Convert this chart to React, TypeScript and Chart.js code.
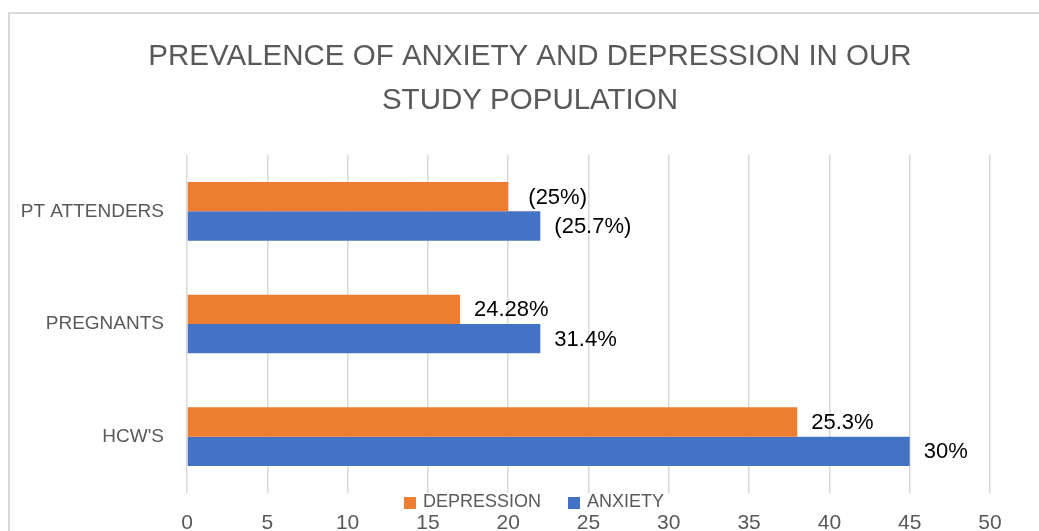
import React, { useEffect, useRef } from 'react';
import { Chart, registerables } from 'chart.js';

Chart.register(...registerables);

const TITLE_LINES = ['PREVALENCE OF ANXIETY AND DEPRESSION IN OUR', 'STUDY POPULATION'];
const CATEGORIES = ['PT ATTENDERS', 'PREGNANTS', "HCW'S"];
const SERIES_NAMES = ['DEPRESSION', 'ANXIETY'];
const DEPRESSION = [20, 17, 38];
const ANXIETY = [22, 22, 45];
const DEPRESSION_LABELS = [' (25%)', '24.28%', '25.3%'];
const ANXIETY_LABELS = ['(25.7%)', '31.4%', '30%'];
const X_MIN = 0;
const X_MAX = 50;
const X_STEP = 5;

const FONT = "'Liberation Sans', Arial, sans-serif";
const GRAY = '#595959';
const ORANGE = '#ED7D31';
const BLUE = '#4472C4';
const GRID = '#d9d9d9';

const VALUE_LABELS = [DEPRESSION_LABELS, ANXIETY_LABELS];

const valueLabelPlugin = {
  id: 'valueLabels',
  afterDatasetsDraw(chart: any) {
    const ctx = chart.ctx;
    ctx.save();
    ctx.font = `22px ${FONT}`;
    ctx.fillStyle = '#000000';
    ctx.textAlign = 'left';
    ctx.textBaseline = 'middle';
    chart.data.datasets.forEach((_ds: any, i: number) => {
      const meta = chart.getDatasetMeta(i);
      meta.data.forEach((el: any, j: number) => {
        ctx.fillText(VALUE_LABELS[i][j], el.x + 14, el.y + 1);
      });
    });
    ctx.restore();
  },
};

const midLegendPlugin = {
  id: 'midLegend',
  afterDraw(chart: any) {
    const ctx = chart.ctx;
    const area = chart.chartArea;
    ctx.save();
    ctx.font = `18px ${FONT}`;
    const box = 12;
    const gapText = 7;
    const gapItem = 27;
    const items = chart.data.datasets.map((ds: any) => ({
      label: ds.label,
      color: ds.backgroundColor,
      w: ctx.measureText(ds.label).width,
    }));
    const total =
      items.reduce((s: number, it: any) => s + box + gapText + it.w, 0) + gapItem * (items.length - 1);
    let x = chart.width / 2 + 4 - total / 2;
    const cy = area.bottom + 9;
    ctx.textBaseline = 'middle';
    ctx.textAlign = 'left';
    items.forEach((it: any) => {
      ctx.fillStyle = it.color;
      ctx.fillRect(x, cy - box / 2 + 1, box, box);
      x += box + gapText;
      ctx.fillStyle = GRAY;
      ctx.fillText(it.label, x, cy);
      x += it.w + gapItem;
    });
    ctx.restore();
  },
};

export default function App() {
  const canvasRef = useRef<HTMLCanvasElement | null>(null);

  useEffect(() => {
    if (!canvasRef.current) return;
    const chart = new Chart(canvasRef.current, {
      type: 'bar',
      data: {
        labels: CATEGORIES,
        datasets: [
          { label: SERIES_NAMES[0], data: DEPRESSION, backgroundColor: ORANGE, borderWidth: 0 },
          { label: SERIES_NAMES[1], data: ANXIETY, backgroundColor: BLUE, borderWidth: 0 },
        ],
      },
      options: {
        indexAxis: 'y',
        responsive: false,
        animation: false,
        layout: { padding: 0 },
        datasets: { bar: { categoryPercentage: 0.52, barPercentage: 1 } },
        plugins: {
          legend: { display: false },
          tooltip: { enabled: false },
          title: {
            display: true,
            text: TITLE_LINES,
            color: GRAY,
            font: { family: FONT, size: 29.5, weight: 'normal', lineHeight: 44 / 29.5 },
            padding: { top: 21, bottom: 32 },
          },
        },
        scales: {
          x: {
            type: 'linear',
            position: 'bottom',
            min: X_MIN,
            max: X_MAX,
            ticks: { stepSize: X_STEP, color: GRAY, font: { family: FONT, size: 21 }, padding: 18 },
            grid: { color: GRID, lineWidth: 1.5, drawTicks: false },
            border: { display: false },
            afterFit: (s: any) => {
              s.height = 38;
            },
          },
          y: {
            type: 'category',
            position: 'left',
            grid: { display: false, drawTicks: false },
            border: { display: false },
            ticks: { color: GRAY, font: { family: FONT, size: 19 }, padding: 23 },
            afterFit: (s: any) => {
              s.width = 177;
            },
          },
          yRight: {
            type: 'category',
            position: 'right',
            display: true,
            grid: { display: false, drawTicks: false },
            border: { display: false },
            ticks: { display: false },
            afterFit: (s: any) => {
              s.width = 60;
            },
          },
        },
      } as any,
      plugins: [valueLabelPlugin, midLegendPlugin],
    });
    return () => chart.destroy();
  }, []);

  return (
    <div
      style={{
        position: 'fixed',
        left: 8,
        top: 12,
        width: 1031,
        height: 519,
        boxSizing: 'border-box',
        borderTop: `2px solid ${GRID}`,
        borderLeft: `2px solid ${GRID}`,
        overflow: 'hidden',
        background: '#ffffff',
      }}
    >
      <canvas ref={canvasRef} width={1040} height={517} style={{ display: 'block', width: 1040, height: 517 }} />
    </div>
  );
}
